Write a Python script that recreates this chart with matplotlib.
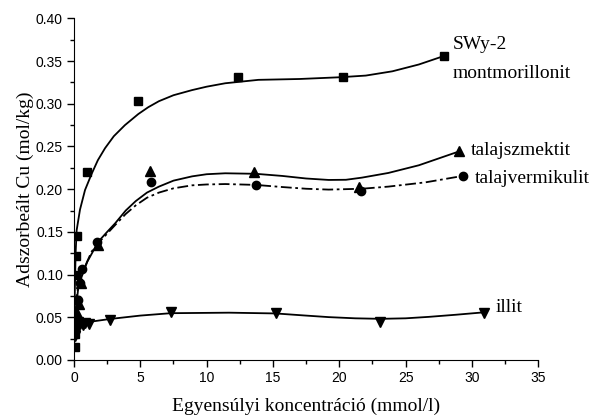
import matplotlib
matplotlib.use('Agg')
import matplotlib.pyplot as plt
from matplotlib.ticker import MultipleLocator

# measured points
swy_x = [0.05, 0.07, 0.1, 0.12, 0.15, 0.18, 0.22, 0.98, 4.85, 12.4, 20.3, 27.9]
swy_y = [0.015, 0.03, 0.045, 0.07, 0.1, 0.122, 0.145, 0.22, 0.303, 0.331, 0.331, 0.356]
szm_x = [0.1, 0.2, 0.35, 0.5, 1.8, 5.7, 13.6, 21.5, 29.0]
szm_y = [0.04, 0.055, 0.065, 0.09, 0.135, 0.221, 0.22, 0.202, 0.245]
ver_x = [0.15, 0.3, 0.45, 0.6, 1.76, 5.8, 13.7, 21.6, 29.3]
ver_y = [0.05, 0.07, 0.09, 0.106, 0.138, 0.208, 0.205, 0.198, 0.2155]
ill_x = [0.08, 0.15, 0.2, 0.3, 0.45, 0.65, 0.85, 1.1, 2.7, 7.3, 15.2, 23.1, 30.9]
ill_y = [0.028, 0.035, 0.04, 0.045, 0.042, 0.041, 0.043, 0.042, 0.047, 0.0565, 0.0545, 0.045, 0.0545]

# fitted curves
swy_fit_x = [0.02, 0.06, 0.12, 0.2, 0.45, 0.83, 1.33, 1.8, 2.34, 3.0, 3.84, 4.85, 5.6, 6.4, 7.5, 8.9, 10, 11.4,
             13.9, 17, 20, 22, 24, 26, 27.9]
swy_fit_y = [0.03, 0.08, 0.125, 0.152, 0.176, 0.199, 0.218, 0.234, 0.248, 0.262, 0.275, 0.288, 0.296, 0.303, 0.310,
             0.316, 0.320, 0.324, 0.328, 0.329, 0.331, 0.333, 0.338, 0.346, 0.356]
szm_fit_x = [0.05, 0.15, 0.33, 0.58, 1.0, 1.83, 2.5, 3.1, 3.9, 4.65, 5.5, 6.4, 7.5, 8.9, 10, 11.4, 13.7, 15.7,
             17.5, 19.2, 20.5, 21.7, 23.7, 26, 28.8]
szm_fit_y = [0.03, 0.06, 0.086, 0.0976, 0.115, 0.1385, 0.150, 0.160, 0.175, 0.186, 0.196, 0.203, 0.210, 0.215,
             0.2175, 0.2186, 0.218, 0.2155, 0.2125, 0.2108, 0.211, 0.2135, 0.219, 0.228, 0.243]
ver_fit_x = [0.05, 0.2, 0.4, 0.7, 1.33, 1.9, 2.5, 3.1, 3.9, 4.65, 5.5, 6.4, 7.5, 8.9, 10, 11.4, 13.7, 15.7,
             17.5, 19.2, 21.7, 23.7, 26.5, 29.3]
ver_fit_y = [0.04, 0.075, 0.095, 0.105, 0.127, 0.138, 0.148, 0.158, 0.171, 0.181, 0.190, 0.196, 0.201, 0.2045,
             0.2055, 0.206, 0.205, 0.2025, 0.2005, 0.1995, 0.2005, 0.203, 0.208, 0.2155]
ill_fit_x = [0.02, 0.05, 0.1, 0.5, 1.33, 2.7, 5, 7.3, 11.7, 15.2, 17.3, 19.2, 21.2, 23.1, 25, 26.75, 28.8, 30.9]
ill_fit_y = [0.02, 0.04, 0.049, 0.047, 0.045, 0.048, 0.052, 0.0548, 0.0554, 0.0545, 0.0522, 0.0502, 0.0488,
             0.0482, 0.0488, 0.0505, 0.053, 0.0558]

fig = plt.figure(figsize=(5.94, 4.17), dpi=100)
ax = fig.add_axes([0.1246, 0.1367, 0.7816, 0.8193])

lw = 1.3
ax.plot(swy_fit_x, swy_fit_y, color='black', lw=lw)
ax.plot(szm_fit_x, szm_fit_y, color='black', lw=lw)
ax.plot(ver_fit_x, ver_fit_y, color='black', lw=lw, linestyle=(0, (6, 2, 1.5, 2)))
ax.plot(ill_fit_x, ill_fit_y, color='black', lw=lw)

ax.plot(swy_x, swy_y, 's', color='black', ms=5.5, ls='none')
ax.plot(szm_x, szm_y, '^', color='black', ms=6.5, ls='none')
ax.plot(ver_x, ver_y, 'o', color='black', ms=6, ls='none')
ax.plot(ill_x, ill_y, 'v', color='black', ms=6.5, ls='none')

ax.set_xlim(0, 35)
ax.set_ylim(0, 0.40)
ax.spines['top'].set_visible(False)
ax.spines['right'].set_visible(False)
ax.xaxis.set_major_locator(MultipleLocator(5))
ax.xaxis.set_minor_locator(MultipleLocator(2.5))
ax.yaxis.set_major_locator(MultipleLocator(0.05))
ax.yaxis.set_minor_locator(MultipleLocator(0.025))
ax.yaxis.set_major_formatter(matplotlib.ticker.FormatStrFormatter('%.2f'))
ax.tick_params(which='major', direction='out', length=5, width=1, pad=3)
ax.tick_params(which='minor', direction='out', length=3, width=1)
for lab in ax.get_xticklabels() + ax.get_yticklabels():
    lab.set_family('Liberation Sans')
    lab.set_fontsize(10)

serif = 'Liberation Serif'
ax.set_xlabel('Egyensúlyi koncentráció (mmol/l)', family=serif, fontsize=14, labelpad=9)
ax.set_ylabel('Adszorbeált Cu (mol/kg)', family=serif, fontsize=14, labelpad=1)

ax.text(28.56, 0.369, 'SWy-2', family=serif, fontsize=14, va='center', ha='left', clip_on=False)
ax.text(28.56, 0.336, 'montmorillonit', family=serif, fontsize=14, va='center', ha='left', clip_on=False)
ax.text(29.9, 0.245, 'talajszmektit', family=serif, fontsize=14, va='center', ha='left', clip_on=False)
ax.text(30.2, 0.213, 'talajvermikulit', family=serif, fontsize=14, va='center', ha='left', clip_on=False)
ax.text(31.8, 0.061, 'illit', family=serif, fontsize=14, va='center', ha='left', clip_on=False)

fig.savefig('out.png', dpi=100)
